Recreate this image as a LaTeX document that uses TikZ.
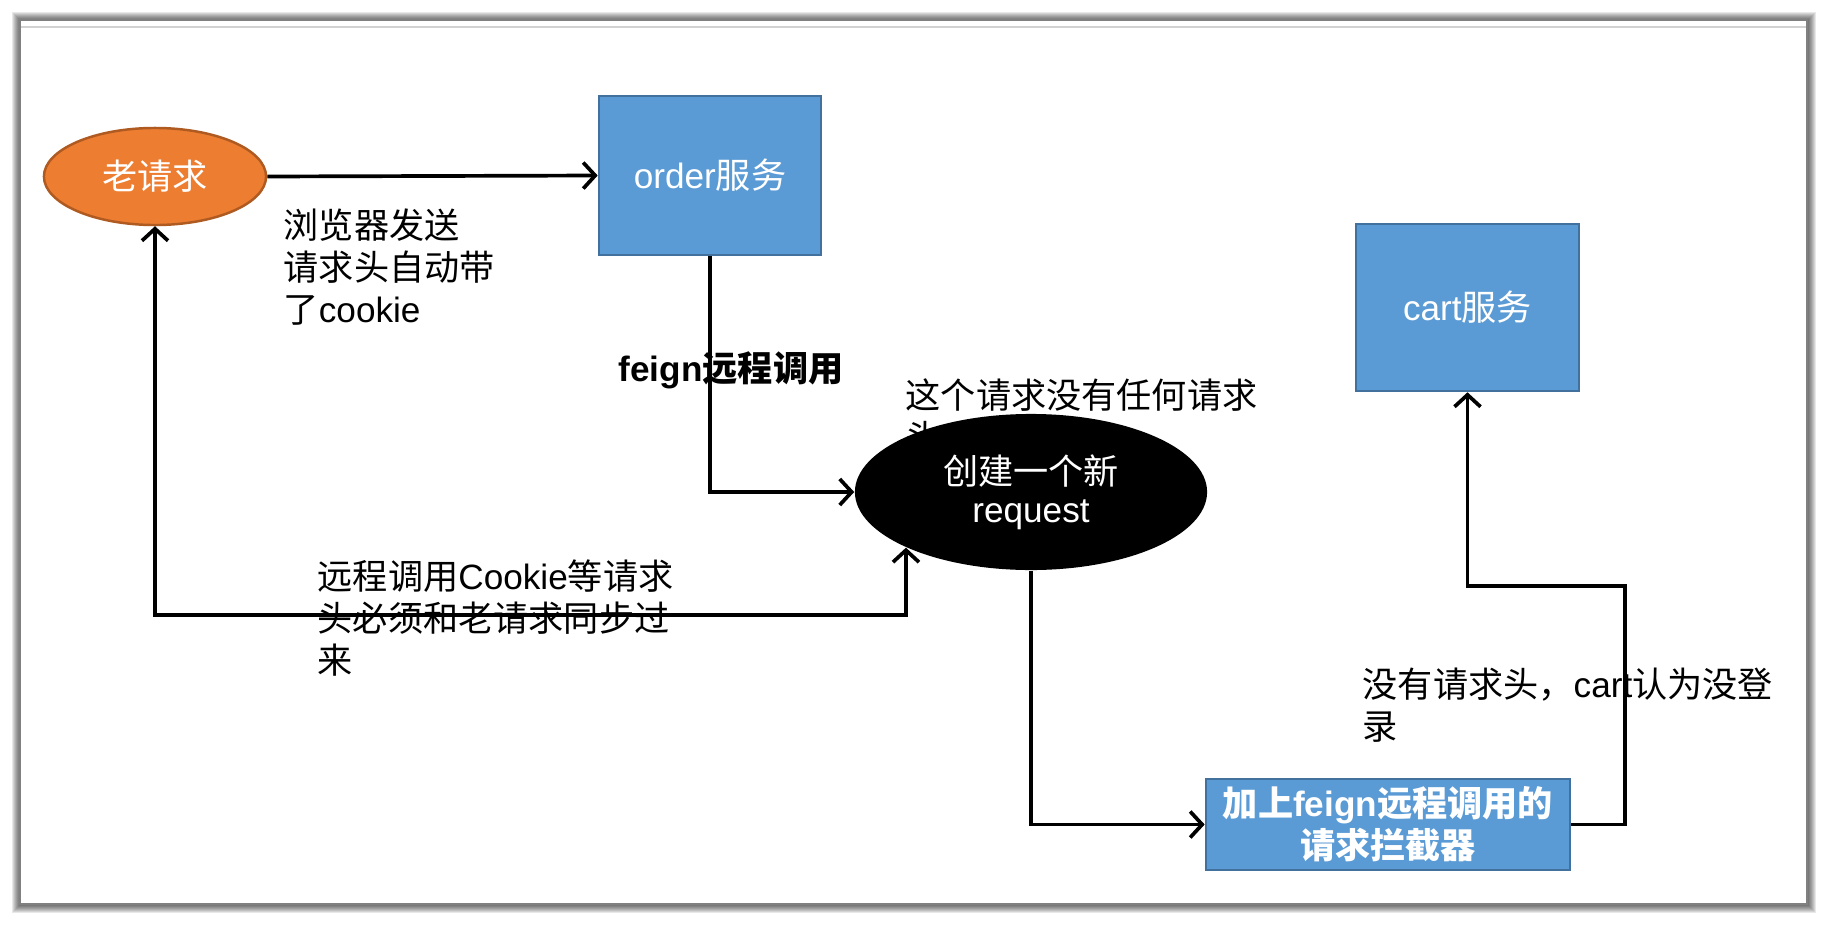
\documentclass[tikz,border=0pt]{standalone}
\usepackage{fontspec}
\setmainfont{Noto Sans CJK SC}
\newfontfamily\lat{Liberation Sans}
\usepackage{tikz}
\usetikzlibrary{arrows.meta, positioning, shapes, calc}
\usepackage{xcolor}
\definecolor{oldfill}{HTML}{ED7D31}
\definecolor{olddraw}{HTML}{AE5A21}
\definecolor{srvfill}{HTML}{5B9BD5}
\definecolor{srvdraw}{HTML}{41719C}
\newcommand{\la}[1]{{\lat #1}}

\begin{document}
\begin{tikzpicture}[x=0.01cm, y=-0.01cm,
  >={Straight Barb[length=3.4pt,width=7.4pt]},
  every node/.style={font=\fontsize{10}{11.95}\selectfont, inner sep=0pt},
  note/.style={align=left, anchor=north west},
  srv/.style={draw=srvdraw, line width=0.7pt, fill=srvfill, text=white, align=center},
  link/.style={line width=1.05pt}]
\useasboundingbox (0,0) rectangle (1827,924);
\foreach \d in {1,...,8}
  \fill[black, opacity=0.09] ({20-\d},{20-\d}) rectangle ({1807+\d+1},{904+\d+1});
\fill[white] (20,20) rectangle (1807,904);
\draw[gray, line width=0.7pt] (20,20) rectangle (1807,904);
\draw[gray!35, line width=0.5pt] (21,27) -- (1806,27);

\node[note] (browsernote) at (283,208) {浏览器发送\\请求头自动带\\了\la{cookie}};
\node[anchor=west, font=\fontsize{10}{12}\selectfont\bfseries] (feignnote) at (618,370) {\la{feign}远程调用};
\node[note] (nohdrnote) at (905,378) {这个请求没有任何请求\\头};
\node[note] (syncnote) at (317,559) {远程调用\la{Cookie}等请求\\头必须和老请求同步过\\来};
\node[note] (loginnote) at (1362,667) {没有请求头，\la{cart}认为没登\\录};

\node[ellipse, draw=olddraw, line width=0.7pt, fill=oldfill, text=white, minimum width=2.22cm, minimum height=0.97cm] (old) at (155,176.5) {老请求};
\node[srv, minimum width=2.22cm, minimum height=1.59cm] (order) at (710,175.5) {\la{order}服务};
\node[srv, minimum width=2.23cm, minimum height=1.67cm] (cart) at (1467.5,307.5) {\la{cart}服务};
\node[ellipse, fill=black, text=white, align=center, minimum width=3.52cm, minimum height=1.56cm, font=\fontsize{10}{10.8}\selectfont] (newreq) at (1031,492) {创建一个新\\\la{request}};
\node[srv, minimum width=3.64cm, minimum height=0.91cm, font=\fontsize{10}{11.95}\selectfont\bfseries] (icpt) at (1388,824.5) {加上\la{feign}远程调用的\\请求拦截器};

\coordinate (sync) at (newreq.204 |- 0,615);
\coordinate (bend) at (1625,586);
\draw[link,->] (old.east) -- (order.west);
\draw[link,->] (order.south) |- (newreq.west);
\draw[link,<->] (old.south) |- (sync) -- (newreq.204);
\draw[link,->] (newreq.south) |- (icpt.west);
\draw[link,->] (icpt.east) -| (bend) -| (cart.south);
\end{tikzpicture}
\end{document}
